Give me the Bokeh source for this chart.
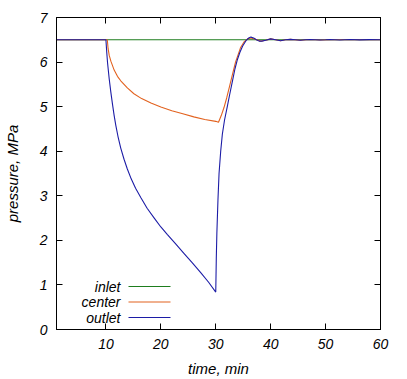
from bokeh.plotting import figure
from bokeh.models import (Range1d, LinearAxis, FixedTicker, Label, BoxAnnotation,
                          CustomLabelingPolicy)
from bokeh.embed import file_html
from bokeh.resources import INLINE

# ---------------- data ----------------
inlet_t = [1, 60]
inlet_p = [6.5, 6.5]

center_t = [1, 10.25, 10.4, 10.6, 10.9, 11.5, 12.1, 12.7, 13.9, 15.1, 16.5, 18.2,
            20, 22, 24, 26, 28, 30, 30.5, 31.0, 31.5, 32.0, 32.5, 33.0, 33.6,
            34.5, 35.2, 35.8, 36.4, 37.2, 38.2, 39.1, 40.0, 40.9, 41.8, 42.7,
            43.6, 45.4, 47.2, 49, 51, 53, 55, 57, 60]
center_p = [6.5, 6.5, 6.3, 6.15, 6.02, 5.82, 5.68, 5.58, 5.42, 5.29, 5.18, 5.08,
            4.99, 4.91, 4.84, 4.77, 4.71, 4.67, 4.65, 4.80, 4.98, 5.20, 5.45, 5.70, 6.00,
            6.32, 6.46, 6.52, 6.54, 6.51, 6.47, 6.49, 6.52, 6.50, 6.48, 6.50,
            6.51, 6.49, 6.505, 6.495, 6.50, 6.50, 6.50, 6.50, 6.50]

outlet_t = [1, 10, 10.15, 10.3, 10.6, 10.9, 11.2, 11.5, 11.8, 12.2, 12.7, 13.3,
            13.9, 14.6, 15.4, 16.4, 17.5, 18.8, 20, 21.2, 22.7, 24.2, 25.7, 27.3,
            28.7, 30, 30.1, 30.2, 30.4, 30.6, 30.9, 31.2, 31.6, 32.1, 32.5, 33.0,
            33.5, 33.9, 34.4, 34.9, 35.5, 36.0, 36.4, 36.9, 37.4, 37.9, 38.4, 39.1,
            40.0, 40.9, 41.8, 42.7, 43.6, 44.5, 45.4, 46.3, 47.2, 48.1, 49, 50,
            50.8, 52.6, 54.4, 56.2, 58, 60]
outlet_p = [6.5, 6.5, 6.22, 5.98, 5.62, 5.32, 5.05, 4.80, 4.58, 4.33, 4.07, 3.82,
            3.6, 3.38, 3.17, 2.95, 2.72, 2.5, 2.3, 2.13, 1.92, 1.71, 1.5, 1.27,
            1.06, 0.84, 1.6, 2.15, 2.9, 3.5, 4.0, 4.38, 4.7, 5.0, 5.25, 5.55,
            5.85, 6.04, 6.22, 6.36, 6.48, 6.54, 6.56, 6.54, 6.50, 6.47, 6.47, 6.49,
            6.52, 6.50, 6.48, 6.50, 6.51, 6.50, 6.49, 6.50, 6.505, 6.50, 6.495, 6.50,
            6.505, 6.495, 6.505, 6.497, 6.503, 6.50]

series_names = ["inlet", "center", "outlet"]
series_colors = ["#1e7d1e", "#e2621f", "#1c1ca6"]
x_ticks = [10, 20, 30, 40, 50, 60]
y_ticks = [0, 1, 2, 3, 4, 5, 6, 7]

FONT = "Liberation Sans"

p = figure(width=407, height=379, output_backend="svg", toolbar_location=None,
           x_range=Range1d(1, 60), y_range=Range1d(0, 7),
           min_border_left=56, min_border_right=27, min_border_top=17,
           min_border_bottom=49)
p.grid.visible = False
p.outline_line_color = "black"
p.outline_line_width = 1
p.background_fill_color = "white"
p.border_fill_color = "white"

p.xaxis.axis_label = "time, min"
p.yaxis.axis_label = "pressure, MPa"
for ax, ticks in ((p.xaxis[0], x_ticks), (p.yaxis[0], y_ticks)):
    ax.ticker = FixedTicker(ticks=ticks)
    ax.minor_tick_line_color = None
    ax.major_tick_in = 6
    ax.major_tick_out = 0
    ax.major_tick_line_color = "black"
    ax.axis_line_color = "black"
    ax.major_label_text_font = FONT
    ax.major_label_text_font_style = "italic"
    ax.major_label_text_font_size = "14px"
    ax.major_label_text_color = "black"
    ax.axis_label_text_font = FONT
    ax.axis_label_text_font_style = "italic"
    ax.axis_label_text_font_size = "15px"
    ax.axis_label_text_color = "black"
p.xaxis.major_label_standoff = 9
p.xaxis.axis_label_standoff = 8
p.yaxis.major_label_standoff = 9
p.yaxis.axis_label_standoff = 16

# mirrored ticks on top and right (no labels drawn)
for side, ticks in (("above", x_ticks), ("right", y_ticks)):
    ax = LinearAxis(ticker=FixedTicker(ticks=ticks))
    ax.major_label_policy = CustomLabelingPolicy(
        code="for (const i of indices) indices.unset(i)")
    ax.major_label_standoff = 0
    ax.minor_tick_line_color = None
    ax.major_tick_in = 6
    ax.major_tick_out = 0
    ax.major_tick_line_color = "black"
    ax.axis_line_color = "black"
    p.add_layout(ax, side)

xs = [inlet_t, center_t, outlet_t]
ys = [inlet_p, center_p, outlet_p]
for t, v, c in zip(xs, ys, series_colors):
    p.line(t, v, line_color=c, line_width=1.1)

# legend: right-aligned texts, then a line sample (screen units, frame-relative)
for i, (name, c) in enumerate(zip(series_names, series_colors)):
    yc = 43 - 15.5 * i
    p.add_layout(Label(x=64, y=yc, x_units="screen", y_units="screen",
                       text=name, text_align="right", text_baseline="middle",
                       text_font=FONT, text_font_style="italic",
                       text_font_size="14px", text_color="black"))
    p.add_layout(BoxAnnotation(left=72, right=114, bottom=yc - 0.6, top=yc + 0.6,
                               left_units="screen", right_units="screen",
                               bottom_units="screen", top_units="screen",
                               fill_color=c, fill_alpha=1, line_color=None))

open("out.html", "w").write(file_html(p, INLINE))
